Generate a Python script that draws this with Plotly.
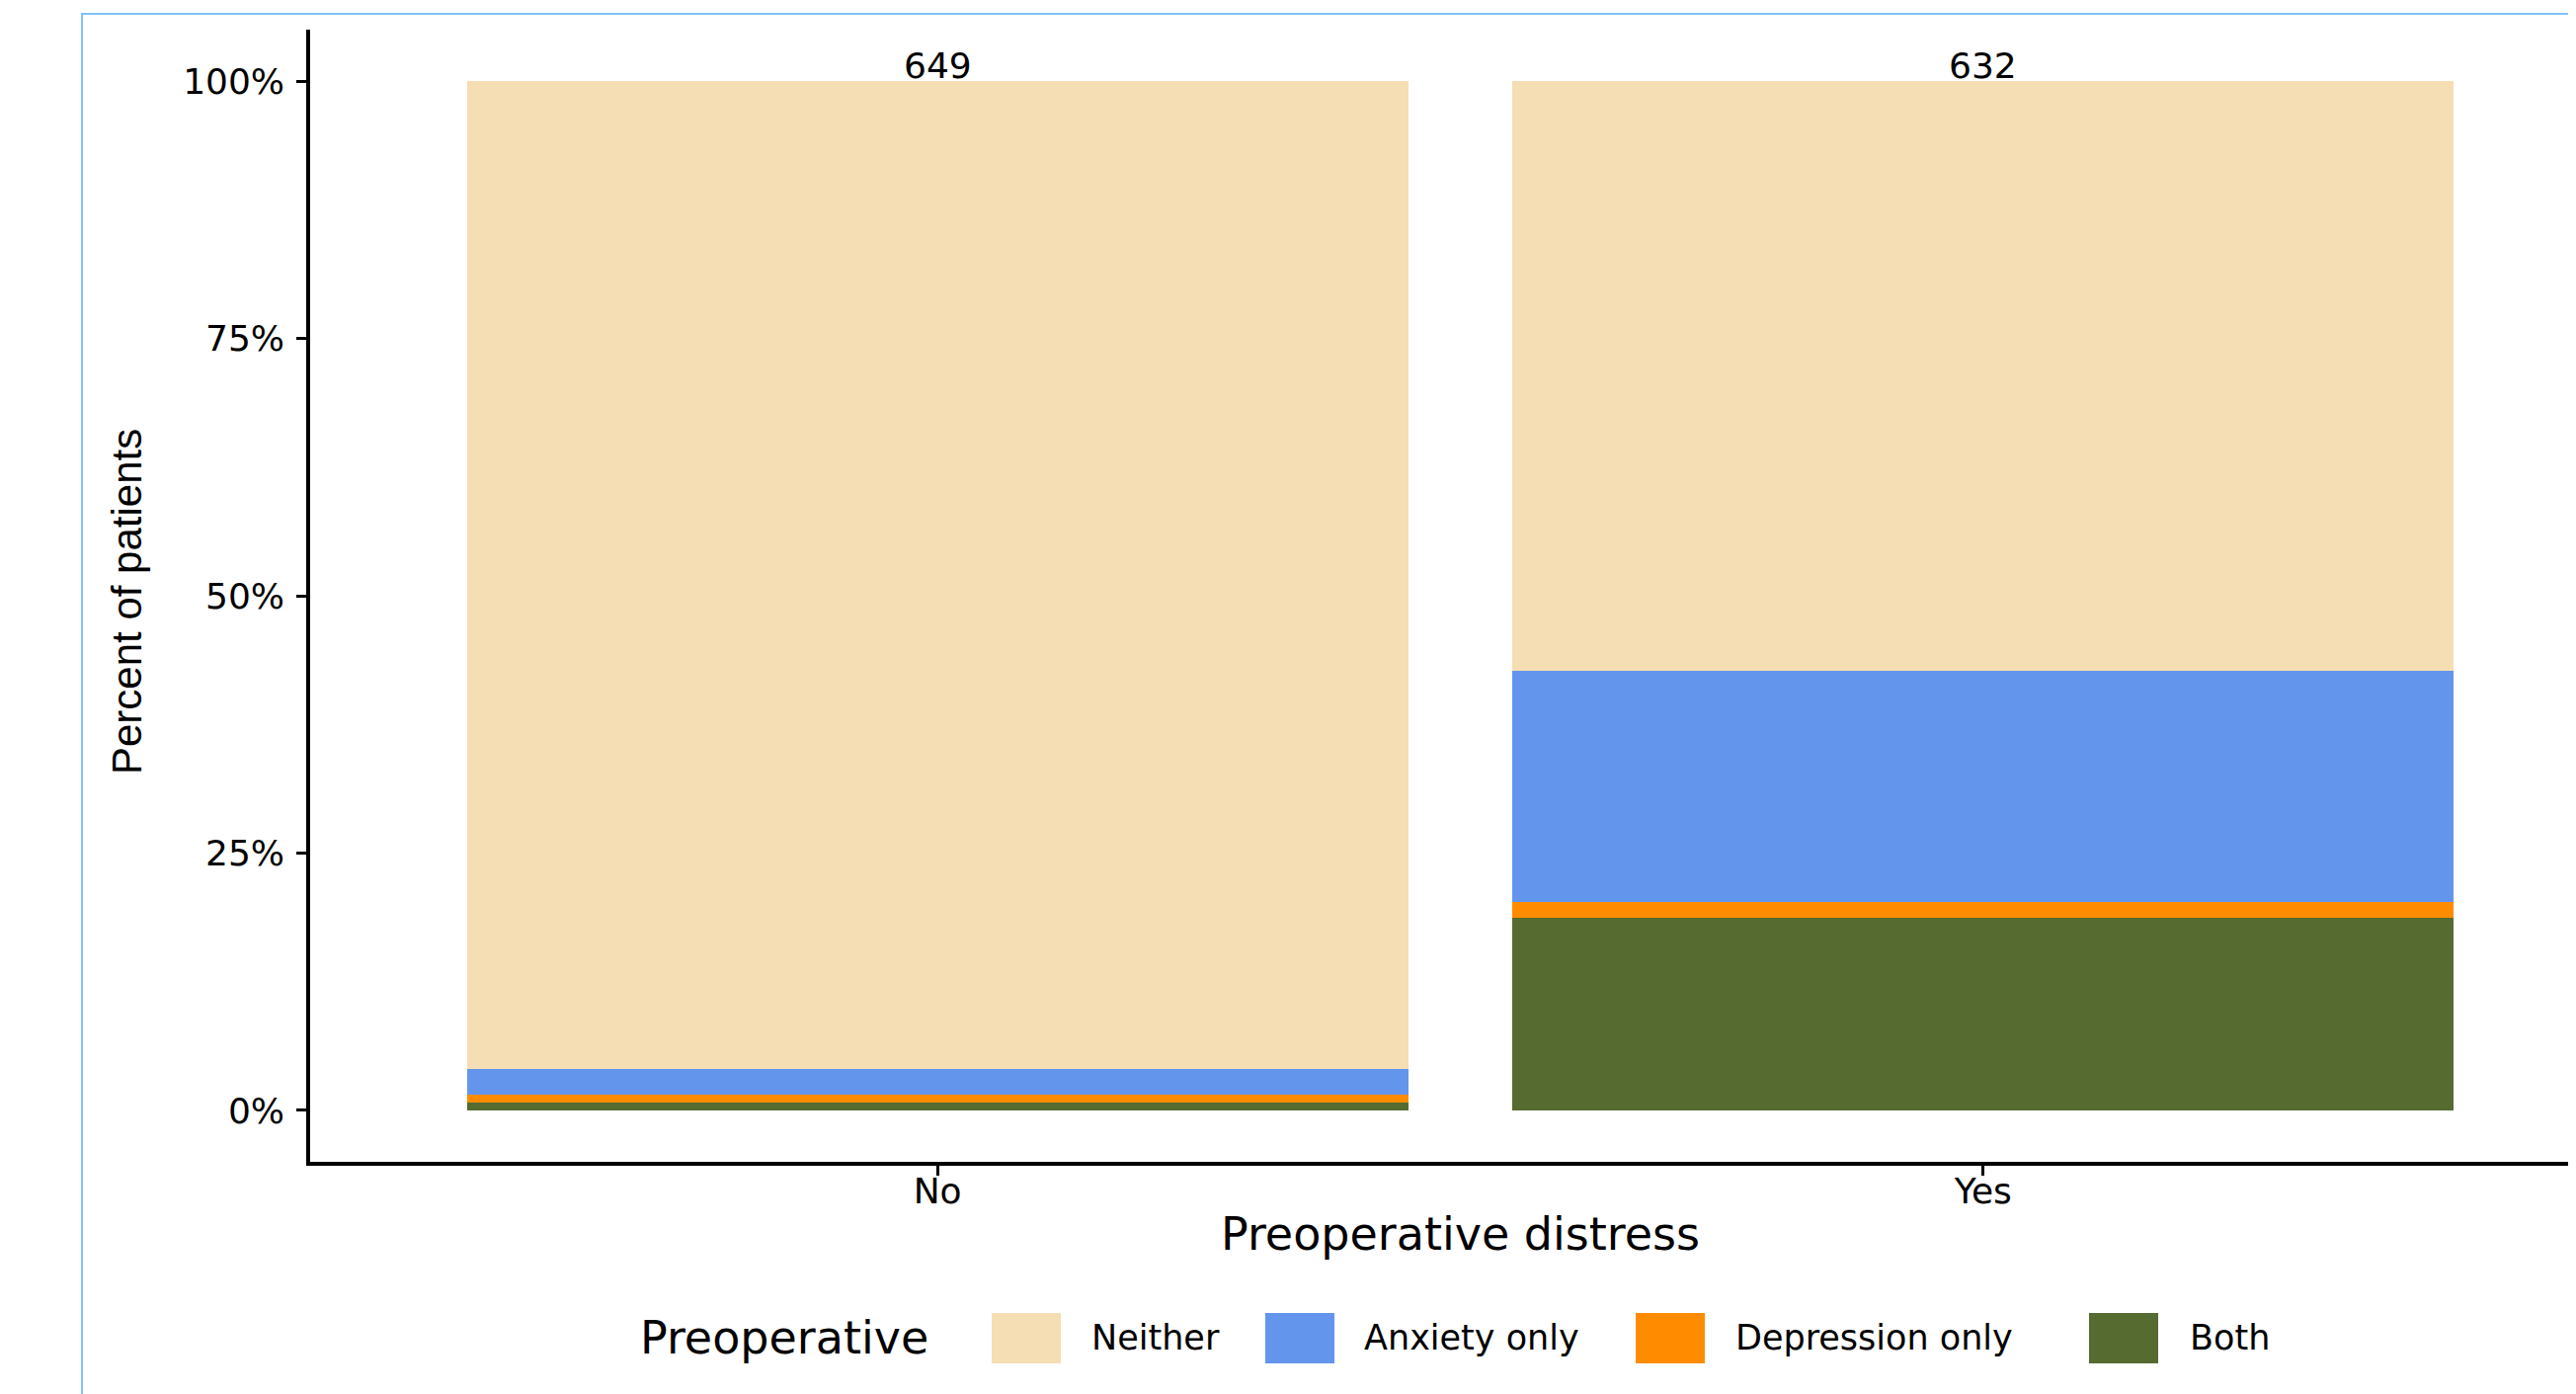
import plotly.graph_objects as go

# ---- data ----
distress = ["No", "Yes"]
both_n = [5, 118]
depression_n = [5, 10]
anxiety_n = [16, 142]
neither_n = [623, 362]
series_names = ["Both", "Depression only", "Anxiety only", "Neither"]   # stacking order, bottom to top
series_colors = ["#556B2F", "#FF8C00", "#6495ED", "#F5DEB3"]
legend_order = ["Neither", "Anxiety only", "Depression only", "Both"]
y_ticks = [0, 25, 50, 75, 100]
y_tick_labels = [f"{v}%" for v in y_ticks]

series_counts = [both_n, depression_n, anxiety_n, neither_n]
totals = [sum(v) for v in zip(*series_counts)]

OFF = 8  # browser body margin
W, H = 2608 - OFF, 1411 - OFF
L, R, T, B = 314 - OFF, 0, 30 - OFF, 1411 - 1176
PW = W - L - R
PH = H - T - B


def px_x(X):
    return (X - OFF - L) / PW


def px_y(Y):
    return (T + PH - (Y - OFF)) / PH


HFONT = "DejaVu Sans"
fig = go.Figure()
for name, cnts, col in zip(series_names, series_counts, series_colors):
    pct = [100.0 * c / t for c, t in zip(cnts, totals)]
    fig.add_trace(go.Bar(
        x=distress, y=pct, name=name, width=0.9,
        marker=dict(color=col, line=dict(width=0)),
        showlegend=False,
    ))

annotations = []
for cat, tot in zip(distress, totals):
    annotations.append(dict(x=cat, y=100, xref="x", yref="y", text=str(tot),
                            showarrow=False, yanchor="bottom", yshift=-7,
                            font=dict(family=HFONT, size=36, color="black")))

# axis titles
annotations.append(dict(x=px_x(1478), y=px_y(1249), xref="paper", yref="paper",
                        text="Preoperative distress", showarrow=False,
                        xanchor="center", yanchor="middle",
                        font=dict(family=HFONT, size=46, color="black")))
annotations.append(dict(x=px_x(129), y=px_y(609), xref="paper", yref="paper",
                        text="Percent of patients", showarrow=False, textangle=-90,
                        xanchor="center", yanchor="middle",
                        font=dict(family="Liberation Sans", size=42, color="black")))

# legend (drawn manually to match the large keys)
shapes = []
leg_y = 1354
annotations.append(dict(x=px_x(646), y=px_y(leg_y), xref="paper", yref="paper",
                        text="Preoperative", showarrow=False,
                        xanchor="left", yanchor="middle",
                        font=dict(family=HFONT, size=46, color="black")))
key_left = [1004, 1281, 1656, 2115]
label_left = [1103, 1379, 1755, 2215]
for name, kx, lx in zip(legend_order, key_left, label_left):
    col = series_colors[series_names.index(name)]
    shapes.append(dict(type="rect", xref="paper", yref="paper",
                       x0=px_x(kx), x1=px_x(kx + 70), y0=px_y(1380), y1=px_y(1329),
                       fillcolor=col, line=dict(width=0)))
    annotations.append(dict(x=px_x(lx), y=px_y(leg_y), xref="paper", yref="paper",
                            text=name, showarrow=False, xanchor="left", yanchor="middle",
                            font=dict(family=HFONT, size=35, color="black")))

# light blue frame
shapes.append(dict(type="rect", xref="paper", yref="paper",
                   x0=px_x(83), x1=px_x(2650), y0=px_y(1450), y1=px_y(14),
                   line=dict(color="#80C0FF", width=2), fillcolor="rgba(0,0,0,0)"))

fig.update_layout(
    width=W, height=H,
    margin=dict(l=L, r=R, t=T, b=B, pad=0),
    barmode="stack",
    paper_bgcolor="white", plot_bgcolor="white",
    showlegend=False,
    annotations=annotations,
    shapes=shapes,
    font=dict(family=HFONT, color="black"),
)
fig.update_xaxes(
    type="category", range=[-0.6, 1.567],
    showline=True, linecolor="black", linewidth=3.5,
    ticks="outside", ticklen=10, tickwidth=3, tickcolor="black",
    showgrid=False, zeroline=False, ticklabelstandoff=-15,
    tickfont=dict(family=HFONT, size=36, color="black"),
)
fig.update_yaxes(
    range=[-5, 105], tickvals=y_ticks, ticktext=y_tick_labels,
    showline=True, linecolor="black", linewidth=3.5,
    ticks="outside", ticklen=10, tickwidth=3, tickcolor="black",
    showgrid=False, zeroline=False, ticklabelstandoff=5,
    tickfont=dict(family=HFONT, size=36, color="black"),
)

fig.write_html("out.html")
